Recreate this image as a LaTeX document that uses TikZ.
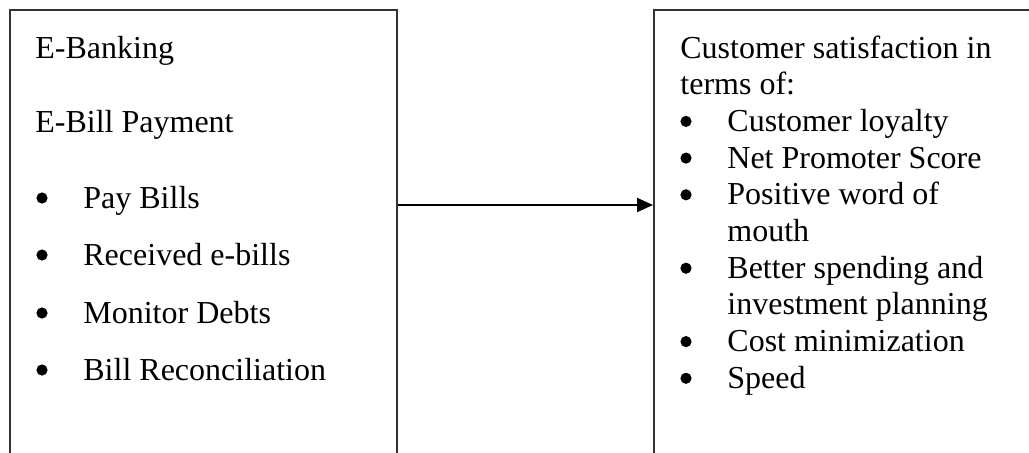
\documentclass[tikz,border=0pt]{standalone}
\usepackage{fontspec}
\setmainfont{Liberation Serif}
\usepackage{tikz}
\usepackage{xcolor}
\usetikzlibrary{arrows.meta}

\tikzset{
  box/.style={draw=black!80, line width=1pt, anchor=north west, inner sep=0pt},
  txt/.style={anchor=base west, inner sep=0pt, font=\fontsize{16}{18}\selectfont},
  dot/.style={circle, fill=black, inner sep=0pt, minimum size=5.6pt},
  link/.style={draw=black, line width=1pt, -{Triangle[length=8pt,width=7pt]}}
}

\begin{document}
\begin{tikzpicture}[x=0.5pt,y=-0.5pt]
      \useasboundingbox (0,0) rectangle (1029,452);
      \clip (0,0) rectangle (1029,452);
      % the two boxes, cut off at the bottom
      \node [box,minimum width=193.5pt,minimum height=240pt] (ebank) at (9,9) {};
      \node [box,minimum width=200pt,minimum height=240pt] (satis) at (653,9) {};
      \draw [link] (ebank.east |- 0,205) -- (satis.west |- 0,205);
      % left box
      \node [txt] (bank) at (35,58) {E-Banking};
      \node [txt] (bill) at (35,132) {E-Bill Payment};
      \foreach \y/\t [count=\i] in {208/Pay Bills,265/Received e-bills,323/Monitor Debts,380/Bill Reconciliation}{
        \node [dot] (lb\i) at (42,\y-10) {};
        \node [txt] (lt\i) at (83,\y) {\t};
      }
      % right box
      \node [txt] (head1) at (680,58) {Customer satisfaction in};
      \node [txt] (head2) at (680,94.7) {terms of:};
      \foreach \y/\t [count=\i] in {131.4/Customer loyalty,168.1/Net Promoter Score,204.8/Positive word of,278.2/Better spending and,351.6/Cost minimization,388.3/Speed}{
        \node [dot] (rb\i) at (686,\y-10) {};
        \node [txt] (rt\i) at (727,\y) {\t};
      }
      \node [txt] (rt3b) at (727,241.5) {mouth};
      \node [txt] (rt4b) at (727,314.9) {investment planning};
\end{tikzpicture}
\end{document}
